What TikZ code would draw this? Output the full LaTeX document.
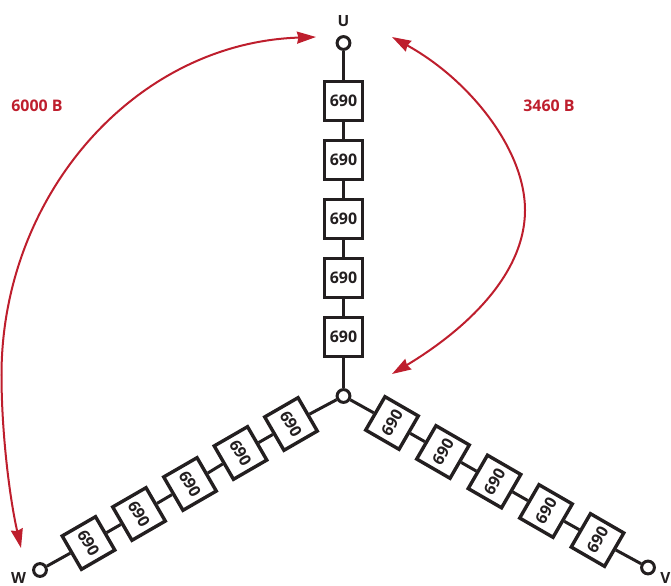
\documentclass[tikz,border=0pt]{standalone}
\usepackage{fontspec}
\setmainfont{Open Sans}
\usetikzlibrary{arrows.meta}
\definecolor{wirek}{HTML}{231F20}
\definecolor{redk}{HTML}{BE1E2D}
\tikzset{
  cellbox/.style={draw=wirek,line width=3.4bp,fill=white,minimum size=38.5bp,inner sep=0pt,text=wirek,font=\fontsize{16}{18}\selectfont\bfseries},
  term/.style={circle,draw=wirek,line width=3bp,fill=white,minimum size=12.8bp,inner sep=0pt},
  wire/.style={draw=wirek,line width=3bp},
  volt/.style={draw=redk,line width=2bp,{Stealth[length=19bp,width=12bp,inset=1.5bp]}-{Stealth[length=19bp,width=12bp,inset=1.5bp]}},
  lab/.style={text=wirek,font=\fontsize{15.5}{18}\selectfont\bfseries},
  rlab/.style={text=redk,font=\fontsize{16}{18}\selectfont\bfseries}
}
\begin{document}
\begin{tikzpicture}[x=1bp,y=-1bp]
\useasboundingbox (0,0) rectangle (671,586);
\node[term] (N) at (343.5,396) {};
\node[term] (U) at (343.5,43) {};
\node[term] (V) at (648,567.5) {};
\node[term] (W) at (40,570) {};
\node[cellbox] (u1) at (343.5,101) {690};
\node[cellbox] (u2) at (343.5,160) {690};
\node[cellbox] (u3) at (343.5,219) {690};
\node[cellbox] (u4) at (343.5,278) {690};
\node[cellbox] (u5) at (343.5,337) {690};
\node[cellbox,rotate=-60] (w1) at (291,424) {690};
\node[cellbox,rotate=-60] (w2) at (240.5,453) {690};
\node[cellbox,rotate=-60] (w3) at (190,484) {690};
\node[cellbox,rotate=-60] (w4) at (139,514) {690};
\node[cellbox,rotate=-60] (w5) at (88.5,543) {690};
\node[cellbox,rotate=60] (v1) at (392,423) {690};
\node[cellbox,rotate=60] (v2) at (443,452) {690};
\node[cellbox,rotate=60] (v3) at (494.5,481.5) {690};
\node[cellbox,rotate=60] (v4) at (546,511) {690};
\node[cellbox,rotate=60] (v5) at (597.5,540) {690};
\draw[wire] (U) -- (u1);
\draw[wire] (u1) -- (u2);
\draw[wire] (u2) -- (u3);
\draw[wire] (u3) -- (u4);
\draw[wire] (u4) -- (u5);
\draw[wire] (u5) -- (N);
\draw[wire] (N) -- (w1);
\draw[wire] (w1) -- (w2);
\draw[wire] (w2) -- (w3);
\draw[wire] (w3) -- (w4);
\draw[wire] (w4) -- (w5);
\draw[wire] (w5) -- (W);
\draw[wire] (N) -- (v1);
\draw[wire] (v1) -- (v2);
\draw[wire] (v2) -- (v3);
\draw[wire] (v3) -- (v4);
\draw[wire] (v4) -- (v5);
\draw[wire] (v5) -- (V);
\node[lab] (lu) at (343.5,21) {U};
\node[lab] (lv) at (665.5,578) {V};
\node[lab] (lw) at (18.5,578) {W};
\node[rlab] (l1) at (37,106) {6000 В};
\node[rlab] (l2) at (549,106) {3460 В};
\coordinate (a1) at (316,37);
\coordinate (a2) at (21,548);
\coordinate (b1) at (392,37);
\coordinate (b2) at (392,374);
\draw[volt] (a1) .. controls (135,43) and (1.5,195) .. (1.5,375) .. controls (1.5,430) and (9,495) .. (a2);
\draw[volt] (b1) .. controls (470,80) and (525,150) .. (525,210) .. controls (525,275) and (465,330) .. (b2);
\end{tikzpicture}
\end{document}
